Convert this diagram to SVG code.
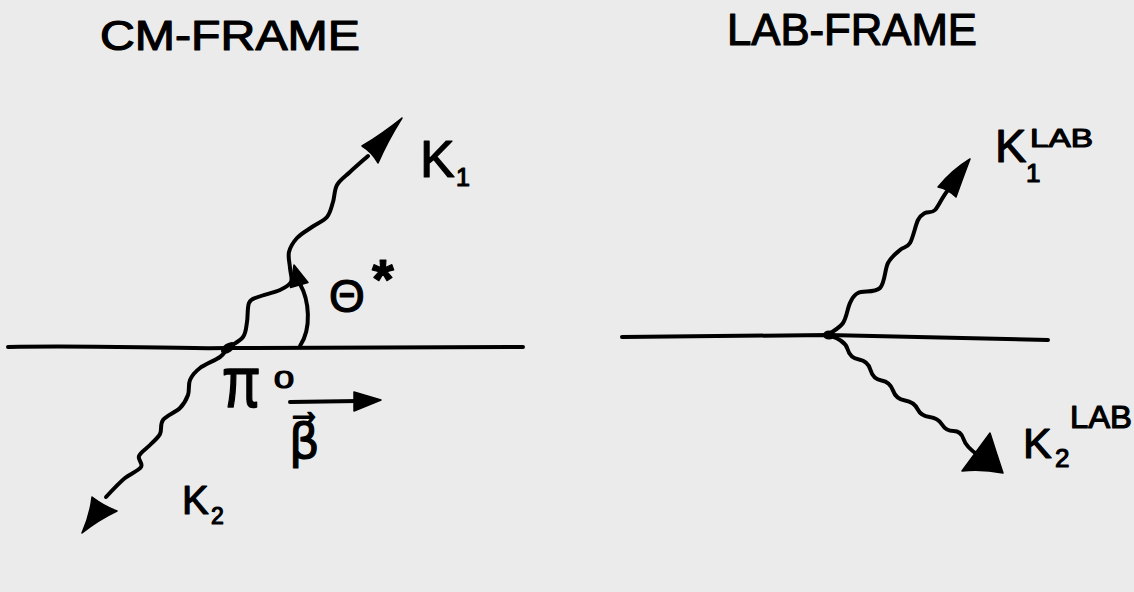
<svg xmlns="http://www.w3.org/2000/svg" width="1134" height="592" viewBox="0 0 1134 592">
<style>
.ln{fill:none;stroke:#000;stroke-width:4;stroke-linecap:round;stroke-linejoin:round}
.ah{fill:#000;stroke:#000;stroke-width:1.5;stroke-linejoin:round}
.t{font-family:"Liberation Sans",Arial,sans-serif;fill:#000;stroke:#000;stroke-width:1.2;stroke-linejoin:round}
</style>
<rect width="1134" height="592" fill="#ebebeb"/>
<g id="connectors">
  <path class="ln" d="M8,347 C100,345 160,349 228,348 L523,347"/>
  <path class="ln" d="M622,337 L828,335 L1048,340"/>
  <path class="ln" d="M228,348 C233,344.3 239.8,341.3 243,337 S246,327.7 247,322 S247.2,307.2 249,303 S252.8,299.2 258,297 S274.5,292.5 280,290 S289.3,285.7 291,282 S290.3,273 290,268 S287.8,257 289,252 S293.2,242.2 297,238 S307,230.5 312,227 S323.5,221.2 327,217 S331.3,207.3 333,202 S334.2,190 337,185 S344.8,176.8 350,172 S362,161.3 368,156"/>
  <path class="ah" d="M402,118 Q388,140 378,163 Q372,152 362,146 Q382,134 402,118 Z"/>
  <path class="ln" d="M228,348 C225.3,351 224.7,353.7 220,357 S205,364.2 200,368 S192,375.5 190,380 S189.7,390.3 188,395 S184.2,403.8 180,408 S166.3,415.7 163,420 S162.2,429.8 160,434 S153.5,441.3 150,445 S140.5,452.3 139,456 S143.3,463.3 141,467 S130.2,473.8 125,478 S115,487.3 106,497"/>
  <path class="ah" d="M82,533 Q90,515 92,497 Q104,506 117,511 Q98,520 82,533 Z"/>
  <path class="ln" d="M300,346 C312,328 309,300 300,284"/>
  <path class="ah" d="M294,265 L290.5,287.5 L308,282.5 Z"/>
  <path class="ln" d="M290,402 L358,401"/>
  <path class="ah" d="M381,400 L354,392 L354,411 Z"/>
  <path class="ln" d="M828,335 C833,331 839.3,328.3 843,323 S847.5,308 850,303 S853,295.5 858,293 S875,293 880,288 S884.7,269.3 888,263 S896.3,253.3 900,250 S907,248 910,243 S915.5,225 918,220 S922.2,214.7 925,213 S931.7,213.5 935,210 S941.7,198 948,190"/>
  <path class="ah" d="M970,159 Q962,180 956,197 Q948,189 938,187 Q952,170 970,159 Z"/>
  <path class="ln" d="M828,335 Q845,340 847.5,349 Q850,358 859,359.5 Q868,361 870.5,370 Q873,379 881.5,380.5 Q890,382 893,390.5 Q896,399 905,400.5 Q914,402 917.5,409 Q921,416 929.5,417 Q938,418 942,424.5 Q946,431 953.5,431 Q961,431 963.5,439 Q966,447 978,455"/>
  <path class="ah" d="M990,433 Q996,452 1003,473 Q982,469 962,471 Q976,452 990,433 Z"/>
</g>
<g id="cm-title"><text class="t" x="100" y="50" font-size="42" textLength="260" lengthAdjust="spacingAndGlyphs">CM-FRAME</text></g>
<g id="lab-title"><text class="t" x="727" y="45" font-size="44" textLength="250" lengthAdjust="spacingAndGlyphs">LAB-FRAME</text></g>
<g id="cm-vertex"><ellipse cx="228" cy="348" rx="8" ry="4.5" transform="rotate(-35 228 348)"/></g>
<g id="lab-vertex"><ellipse cx="829" cy="335" rx="6" ry="4.5"/></g>
<g id="label-k1"><text class="t" x="420" y="177" font-size="52">K</text><text class="t" x="456" y="186" font-size="25">1</text></g>
<g id="label-k2"><text class="t" x="182" y="514" font-size="40">K</text><text class="t" x="211" y="524" font-size="23">2</text></g>
<g id="label-theta"><text class="t" x="329" y="312" font-size="46">Θ</text><text class="t" x="372" y="298" font-size="56" font-weight="bold">*</text></g>
<g id="label-pi0"><text class="t" font-size="56" transform="translate(222,407) scale(1,1.3)">π</text><text class="t" font-size="24" transform="translate(274,388) scale(1.5,1)">0</text></g>
<g id="label-beta"><text class="t" x="289" y="458" font-size="48" style="font-family:'DejaVu Sans',sans-serif">β⃗</text></g>
<g id="label-k1lab"><text class="t" x="995" y="162" font-size="47">K</text><text class="t" x="1030" y="147" font-size="26" textLength="63" lengthAdjust="spacingAndGlyphs">LAB</text><text class="t" x="1026" y="182" font-size="26">1</text></g>
<g id="label-k2lab"><text class="t" x="1023" y="458" font-size="43">K</text><text class="t" x="1055" y="467" font-size="26">2</text><text class="t" x="1070" y="428" font-size="31" textLength="62" lengthAdjust="spacingAndGlyphs">LAB</text></g>
</svg>
